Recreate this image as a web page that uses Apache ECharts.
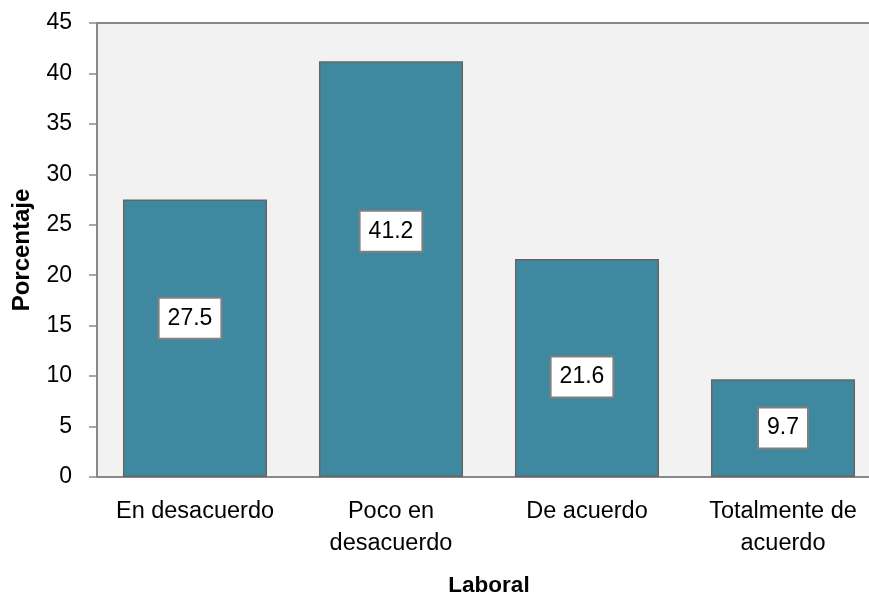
<!DOCTYPE html>
<html>
<head>
<meta charset="utf-8">
<script src="https://cdn.jsdelivr.net/npm/echarts@6/dist/echarts.min.js"></script>
<style>
    html, body { margin: 0; padding: 0; background: #fff; }
    #chart { width: 869px; height: 594px; }
</style>
</head>
<body>
<div id="chart"></div>
<script>
// datos
var categorias = ['En desacuerdo', 'Poco en\ndesacuerdo', 'De acuerdo', 'Totalmente de\nacuerdo'];
var porcentajes = [27.5, 41.2, 21.6, 9.7];
var yTicks = { min: 0, max: 45, interval: 5 };

// desplazamiento de las etiquetas (colocadas a mano en el original)
var labelOffsets = [[-5, -20], [0, -38], [-5, 9], [0, 0]];

var axisGray = '#898989';
var font = '"Liberation Sans", Arial, sans-serif';

var chart = echarts.init(document.getElementById('chart'));

var option = {
    animation: false,
    backgroundColor: '#ffffff',
    grid: {
        left: 97,
        top: 23,
        width: 784,
        bottom: 117,
        outerBoundsMode: 'none',
        containLabel: false,
        show: true,
        backgroundColor: '#f2f2f2',
        borderWidth: 0
    },
    xAxis: [{
        type: 'category',
        data: categorias,
        name: 'Laboral',
        nameLocation: 'middle',
        nameGap: 97,
        nameTextStyle: {
            fontFamily: font,
            fontSize: 22.5,
            fontWeight: 'bold',
            color: '#000'
        },
        axisLine: { lineStyle: { color: axisGray, width: 2 } },
        axisTick: { show: false },
        axisLabel: {
            fontFamily: font,
            fontSize: 23.5,
            color: '#000',
            lineHeight: 32,
            margin: 19,
            interval: 0
        }
    }, {
        // línea superior del área de trazado
        type: 'category',
        data: categorias,
        position: 'top',
        axisLine: { show: true, lineStyle: { color: axisGray, width: 2 } },
        axisTick: { show: false },
        axisLabel: { show: false }
    }],
    yAxis: {
        type: 'value',
        min: yTicks.min,
        max: yTicks.max,
        interval: yTicks.interval,
        name: 'Porcentaje',
        nameLocation: 'middle',
        nameGap: 63,
        nameTextStyle: {
            fontFamily: font,
            fontSize: 24,
            fontWeight: 'bold',
            color: '#000'
        },
        splitLine: { show: false },
        axisLine: { show: true, lineStyle: { color: axisGray, width: 2 } },
        axisTick: { show: true, length: 8, lineStyle: { color: axisGray, width: 1.5 } },
        axisLabel: {
            fontFamily: font,
            fontSize: 23,
            color: '#000',
            margin: 25
        }
    },
    series: [{
        type: 'bar',
        barWidth: '73.5%',
        itemStyle: {
            color: '#3e89a0',
            borderColor: '#666666',
            borderWidth: 1.5
        },
        label: {
            show: true,
            position: 'inside',
            fontFamily: font,
            fontSize: 23,
            lineHeight: 23,
            color: '#000',
            backgroundColor: '#ffffff',
            borderColor: '#808080',
            borderWidth: 2,
            padding: [8, 8]
        },
        data: porcentajes.map(function (v, i) {
            return { value: v, label: { offset: labelOffsets[i] } };
        })
    }]
};

chart.setOption(option);
</script>
</body>
</html>
